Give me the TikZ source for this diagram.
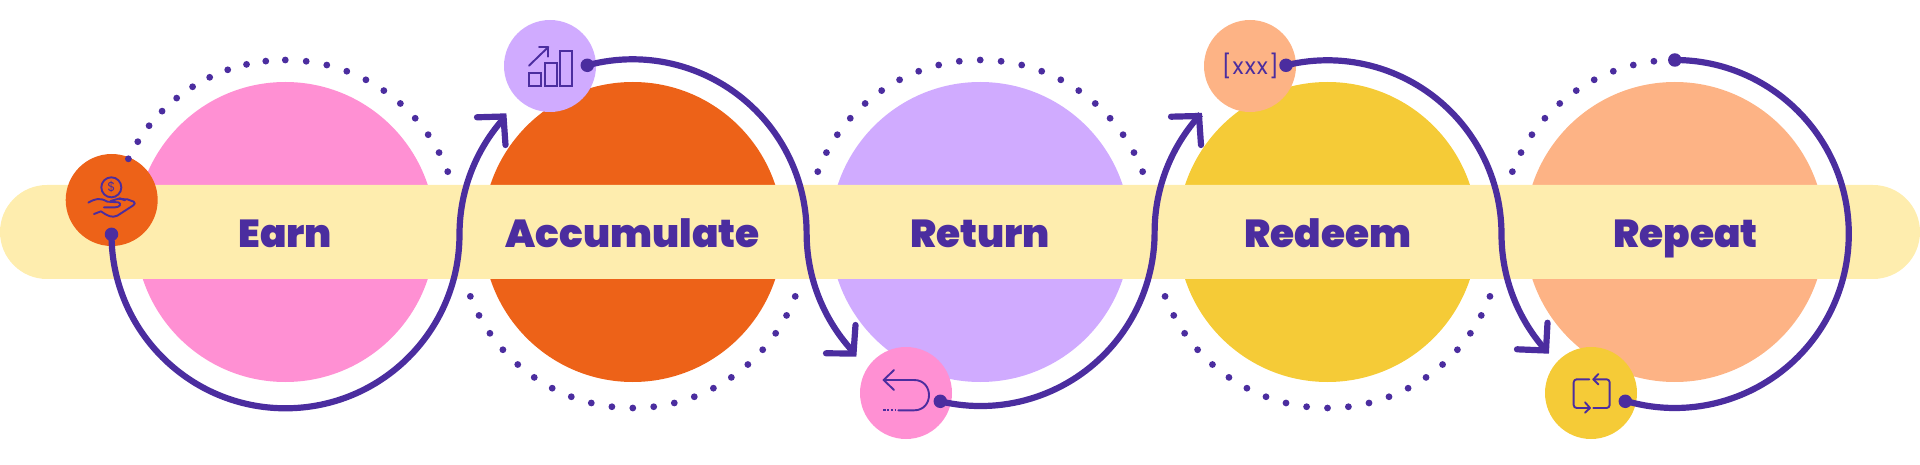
\documentclass[tikz,border=0pt]{standalone}
\usepackage{fontspec}
\newfontfamily\labelfont{Poppins Black}
\newfontfamily\iconfont[LetterSpace=5]{Poppins}
\definecolor{ink}{HTML}{4B2D9F}
\definecolor{cpink}{HTML}{FF90D3}
\definecolor{corange}{HTML}{ED6218}
\definecolor{clav}{HTML}{D0ABFF}
\definecolor{cyellow}{HTML}{F5CB37}
\definecolor{cpeach}{HTML}{FDB385}
\definecolor{cband}{HTML}{FEEDAE}
\tikzset{
  bigdisc/.style={circle,inner sep=0pt,minimum size=300pt,fill=#1},
  icondisc/.style={circle,inner sep=0pt,minimum size=92pt,fill=#1},
  stepband/.style={inner sep=0pt,minimum width=1920pt,minimum height=94pt,rounded corners=47pt,fill=cband},
  steplabel/.style={anchor=base,inner sep=0pt,text=ink,font=\labelfont\fontsize{39}{39}\selectfont},
  conn/.style={draw=ink,line width=6.2pt},
  barb/.style={draw=ink,line width=6.2pt,line cap=round,line join=miter},
  startdot/.style={circle,inner sep=0pt,minimum size=13.5pt,fill=ink},
  pdot/.style={fill=ink},
  iconline/.style={draw=ink,line width=1.9pt,line cap=round,line join=round},
}
\begin{document}
\begin{tikzpicture}[x=1pt,y=1pt]
\useasboundingbox (0,0) rectangle (1920,464);
% big discs
\node[bigdisc=cpink]   (c1) at (285.3,232) {};
\node[bigdisc=corange] (c2) at (632.8,232) {};
\node[bigdisc=clav]    (c3) at (980.2,232) {};
\node[bigdisc=cyellow] (c4) at (1327.5,232) {};
\node[bigdisc=cpeach]  (c5) at (1674.8,232) {};
% band
\node[stepband] (band) at (960,232) {};
% arc centres
\coordinate (ac1) at (285.3,230);
\coordinate (ac2) at (632.8,230);
\coordinate (ac3) at (980.2,230);
\coordinate (ac4) at (1327.5,230);
\coordinate (ac5) at (1674.8,230);
% icon discs
\node[icondisc=corange] (i1) at (111.7,264) {};
\node[icondisc=clav]    (i2) at (550,398) {};
\node[icondisc=cpink]   (i3) at (906,71) {};
\node[icondisc=cpeach]  (i4) at (1250,398) {};
\node[icondisc=cyellow] (i5) at (1591,71) {};
% dotted arcs
\foreach \k in {0,...,10} \fill[pdot] ([shift={(90+6.44*\k:174)}]ac1) circle (3.4);
\foreach \k in {1,...,10} \fill[pdot] ([shift={(90-6.9*\k:174)}]ac1) circle (3.4);
\foreach \k in {-10,...,10} \fill[pdot] ([shift={(270+6.9*\k:174)}]ac2) circle (3.4);
\foreach \k in {-10,...,10} \fill[pdot] ([shift={(90+6.9*\k:174)}]ac3) circle (3.4);
\foreach \k in {-10,...,10} \fill[pdot] ([shift={(270+6.9*\k:174)}]ac4) circle (3.4);
\foreach \k in {1,...,10} \fill[pdot] ([shift={(90+6.9*\k:174)}]ac5) circle (3.4);
% start dots
\node[startdot] (s1) at (111.5,229.7) {};
\node[startdot] (s2) at (587.3,398.7) {};
\node[startdot] (s3) at (940.3,62.7) {};
\node[startdot] (s4) at (1286,398.7) {};
\node[startdot] (s5) at (1674.8,404) {};
\coordinate (e5) at (1625.3,62.7);
\node[startdot] (s5b) at (e5) {};
% solid connectors
\draw[conn] (s1.center) arc[start angle=180,end angle=360,radius=174] arc[start angle=180,end angle=137.7,radius=174] coordinate (t1);
\draw[conn] (s2.center) arc[start angle=105.1,end angle=0,radius=174] arc[start angle=180,end angle=223.3,radius=174] coordinate (t2);
\draw[conn] (s3.center) arc[start angle=256.6,end angle=360,radius=174] arc[start angle=180,end angle=137.4,radius=174] coordinate (t3);
\draw[conn] (s4.center) arc[start angle=103.8,end angle=0,radius=174] arc[start angle=180,end angle=222.1,radius=174] coordinate (t4);
\draw[conn] (s5.center) arc[start angle=90,end angle=-106.5,radius=174];
% arrow heads
\coordinate (b1a) at (477,346.7); \coordinate (b1b) at (505.5,319);
\coordinate (b2a) at (826,110.7); \coordinate (b2b) at (855.5,139);
\coordinate (b3a) at (1171,347.3); \coordinate (b3b) at (1201,319);
\coordinate (b4a) at (1517,114.7); \coordinate (b4b) at (1547.5,141.3);
\draw[barb] (b1a) -- (503.5,347.5) -- (b1b);
\draw[barb] (b2a) -- (853.5,110.5) -- (b2b);
\draw[barb] (b3a) -- (1199,348) -- (b3b);
\draw[barb] (b4a) -- (1546,113.5) -- (b4b);
% labels
\node[steplabel] (l1) at (285.3,216) {Earn};
\node[steplabel] (l2) at (632.8,216) {Accumulate};
\node[steplabel] (l3) at (980.2,216) {Return};
\node[steplabel] (l4) at (1327.7,216) {Redeem};
\node[steplabel] (l5) at (1685.6,216) {Repeat};
% icon 1: coin in hand
\begin{scope}[xshift=20pt,yshift=319pt,xscale=1/3,yscale=-1/3]
\draw[iconline] (274,127) circle[radius=30];
\node[text=ink,inner sep=0pt,font=\fontspec{Poppins}\fontsize{13}{13}\selectfont] (dollar) at (274,127) {\$};
\draw[iconline] (205,173) .. controls (225,161) and (240,157) .. (262,170) -- (295,172) .. controls (306,176) and (300,187) .. (285,187) -- (252,187);
\draw[iconline] (272,168) -- (300,160) -- (315,166);
\draw[iconline] (298,162) -- (322,163) -- (341,170) .. controls (346,173) and (345,178) .. (340,181) -- (292,212) .. controls (275,220) and (262,212) .. (243,199) -- (222,207);
\end{scope}
% icon 2: bars and rising arrow
\begin{scope}[xshift=495pt,yshift=454pt,xscale=1/3,yscale=-1/3]
\draw[iconline,line join=miter] (103,190) rectangle (139,229);
\draw[iconline,line join=miter] (149,160) rectangle (185,229);
\draw[iconline,line join=miter] (194,123) rectangle (230,229);
\draw[iconline] (102,167) -- (160,111);
\draw[iconline] (132,111) -- (160,111) -- (160,140);
\end{scope}
% icon 3: return arrow
\begin{scope}[xshift=850pt,yshift=124pt,xscale=1/3,yscale=-1/3]
\draw[iconline] (132,90) -- (101,120) -- (132,150);
\draw[iconline] (101,120) -- (192,120) .. controls (252,120) and (252,211) .. (192,211) -- (145,211);
\draw[iconline,line cap=butt,dash pattern=on 2.2pt off 1.6pt] (100,211) -- (139,211);
\end{scope}
% icon 4: code text
\node[text=ink,inner sep=0pt,font=\iconfont\fontsize{23}{23}\selectfont] (code) at (1250.3,398) {[xxx]};
% icon 5: repeat loop
\begin{scope}[xshift=1535pt,yshift=124pt,xscale=1/3,yscale=-1/3]
\draw[iconline,rounded corners=3pt] (163,118) -- (116,118) -- (116,204) -- (165,204);
\draw[iconline] (150,187) -- (165,204) -- (150,218);
\draw[iconline,rounded corners=3pt] (175,204) -- (224,204) -- (224,118) -- (175,118);
\draw[iconline] (190,102) -- (175,118) -- (190,133);
\end{scope}
\end{tikzpicture}
\end{document}
